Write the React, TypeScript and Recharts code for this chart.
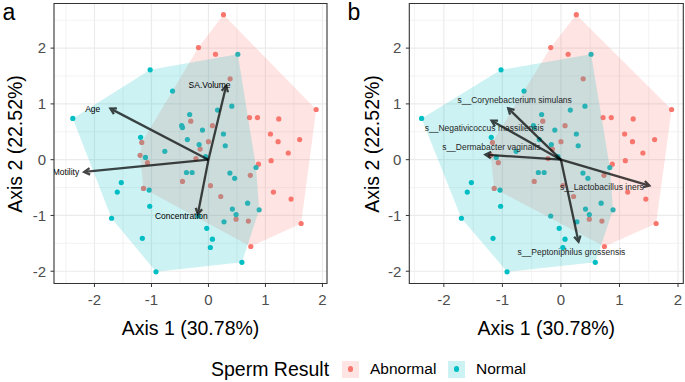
import React from 'react';
import { ScatterChart, Scatter, XAxis, YAxis, CartesianGrid, ReferenceArea } from 'recharts';

// PCoA scores (Axis 1, Axis 2) per sample
const abnormal: [number, number][] = [
  [0.263, 2.6], [-0.175, 2.01], [0.123, 1.89], [0.38, 1.45], [1.89, 0.9],
  [0.72, 0.755], [0.86, 0.755], [1.234, 0.73], [-0.31, 0.69], [0.07, 0.61],
  [1.088, 0.46], [1.222, 0.323], [1.6, 0.36], [0.0, 0.323], [-1.17, 0.31],
  [-0.146, 0.19], [-1.2, 0.078], [1.4, 0.12], [-1.07, -0.054], [1.1, -0.018],
  [0.877, -0.08], [0.735, -0.28], [-0.456, -0.39], [0.035, -0.467], [-1.14, -0.515],
  [1.14, -0.58], [0.216, -0.66], [1.45, -0.707], [0.485, -1.066], [0.7, -1.1],
  [1.626, -1.144], [0.743, -1.557], [-0.22, 0.02],
];

const normal: [number, number][] = [
  [0.515, 1.89], [-1.023, 1.61], [-0.63, 1.23], [-2.38, 0.74], [0.16, 0.89],
  [0.41, 0.96], [-0.33, 0.81], [-0.47, 0.61], [-0.456, 0.575], [-0.105, 0.53],
  [0.263, 0.46], [-0.37, 0.36], [-1.19, 0.4], [-0.164, 0.27], [0.295, 0.25],
  [-0.766, 0.15], [-1.105, 0.04], [-0.05, 0.054], [0.835, -0.14], [-0.386, -0.23],
  [-0.287, -0.23], [0.376, -0.24], [0.46, -0.335], [-1.53, -0.41], [-1.6, -0.58],
  [-1.04, -0.545], [-1.03, -0.835], [-1.7, -1.05], [0.687, -0.78], [0.89, -0.9],
  [0.42, -0.886], [0.485, -0.985], [0.273, -1.115], [-0.175, -1.01], [-0.03, -1.23],
  [0.07, -1.425], [0.033, -1.575], [-1.16, -1.41], [-0.92, -2.01], [0.587, -1.84],
];

// fitted vectors: tip (x, y) and text anchor (lx, ly)
const vectorsA = [
  { label: 'Age', x: -1.72, y: 0.915, lx: -2.03, ly: 0.91 },
  { label: 'SA.Volume', x: 0.31, y: 1.32, lx: 0.02, ly: 1.33 },
  { label: 'Motility', x: -2.18, y: -0.22, lx: -2.5, ly: -0.226 },
  { label: 'Concentration', x: -0.186, y: -0.975, lx: -0.475, ly: -1.01 },
];

const vectorsB = [
  { label: 's__Corynebacterium simulans', x: -0.9, y: 0.92, lx: -0.79, ly: 1.07 },
  { label: 's__Negativicoccus massiliensis', x: -1.185, y: 0.7, lx: -1.31, ly: 0.565 },
  { label: 's__Dermabacter vaginalis', x: -1.29, y: 0.09, lx: -1.19, ly: 0.22 },
  { label: 's__Lactobacillus iners', x: 1.51, y: -0.467, lx: 0.7, ly: -0.485 },
  { label: 's__Peptoniphilus grossensis', x: 0.3, y: -1.47, lx: 0.18, ly: -1.66 },
];

const ticks = [-2, -1, 0, 1, 2];
const minorX = [-2.5, -1.5, -0.5, 0.5, 1.5];
const minorY = [-1.5, -0.5, 0.5, 1.5, 2.5];
const yDomain: [number, number] = [-2.22, 2.8];

const RED = '#F8766D';
const TEAL = '#00BFC4';
const FONT = '"Liberation Sans", Arial, Helvetica, sans-serif';

const toXY = (pts: [number, number][]) => pts.map(([x, y]) => ({ x, y }));

// convex hull (monotone chain), same as chull() used for the group polygons
function hull(pts: [number, number][]) {
  const p = [...pts].sort((a, b) => a[0] - b[0] || a[1] - b[1]);
  const cross = (o: number[], a: number[], b: number[]) =>
    (a[0] - o[0]) * (b[1] - o[1]) - (a[1] - o[1]) * (b[0] - o[0]);
  const lower: [number, number][] = [];
  for (const q of p) {
    while (lower.length >= 2 && cross(lower[lower.length - 2], lower[lower.length - 1], q) <= 0) lower.pop();
    lower.push(q);
  }
  const upper: [number, number][] = [];
  for (let i = p.length - 1; i >= 0; i--) {
    const q = p[i];
    while (upper.length >= 2 && cross(upper[upper.length - 2], upper[upper.length - 1], q) <= 0) upper.pop();
    upper.push(q);
  }
  return lower.slice(0, -1).concat(upper.slice(0, -1));
}

const noShape = () => <g />;

const dot = (color: string) => (p: any) => <circle cx={p.cx} cy={p.cy} r={2.6} fill={color} />;

const polygon = (color: string) => (p: any) => {
  const pts = p.points || [];
  if (!pts.length) return <g />;
  const d = pts.map((q: any, i: number) => `${i ? 'L' : 'M'}${q.x},${q.y}`).join('') + 'Z';
  return <path d={d} fill={color} fillOpacity={0.2} stroke="none" />;
};

const arrow = (p: any) => {
  const pts = p.points || [];
  if (pts.length < 2) return <g />;
  const [a, b] = pts;
  const ang = Math.atan2(b.y - a.y, b.x - a.x);
  const len = 6.5;
  const s = Math.PI / 6;
  const h1 = [b.x - len * Math.cos(ang - s), b.y - len * Math.sin(ang - s)];
  const h2 = [b.x - len * Math.cos(ang + s), b.y - len * Math.sin(ang + s)];
  return (
    <g opacity={0.72} stroke="#000" strokeWidth={2.3} fill="none" strokeLinecap="butt" strokeLinejoin="miter">
      <line x1={a.x} y1={a.y} x2={b.x} y2={b.y} />
      <polyline points={`${h1[0]},${h1[1]} ${b.x},${b.y} ${h2[0]},${h2[1]}`} />
    </g>
  );
};

const labelText = (color: string) => (p: any) => (
  <text
    x={p.cx}
    y={p.cy}
    textAnchor="middle"
    dominantBaseline="central"
    fontSize={8.5}
    fill={color}
    fontFamily={FONT}
  >
    {p.payload.label}
  </text>
);

interface PanelProps {
  left: number;
  yAxisWidth: number;
  marginRight: number;
  xDomain: [number, number];
  vectors: { label: string; x: number; y: number; lx: number; ly: number }[];
  textColor: string;
}

function Panel({ left, yAxisWidth, marginRight, xDomain, vectors, textColor }: PanelProps) {
  const tickStyle = { fill: '#4D4D4D', fontSize: 15, fontFamily: FONT };
  return (
    <div style={{ position: 'absolute', left, top: 0 }}>
      <ScatterChart width={340} height={310} margin={{ top: 3.5, right: marginRight, bottom: 0, left: 0 }}>
        <CartesianGrid stroke="#EBEBEB" strokeWidth={0.6} verticalValues={minorX} horizontalValues={minorY} />
        <CartesianGrid stroke="#EBEBEB" strokeWidth={1.2} verticalValues={ticks} horizontalValues={ticks} />
        <XAxis
          type="number"
          dataKey="x"
          domain={xDomain}
          ticks={ticks}
          allowDataOverflow
          height={26.5}
          axisLine={false}
          tickLine={{ stroke: '#333333' }}
          tickSize={3.5}
          tickMargin={7}
          tick={tickStyle}
          interval={0}
        />
        <YAxis
          type="number"
          dataKey="y"
          domain={yDomain}
          ticks={ticks}
          allowDataOverflow
          width={yAxisWidth}
          axisLine={false}
          tickLine={{ stroke: '#333333' }}
          tickSize={3.5}
          tickMargin={4.5}
          tick={tickStyle}
          interval={0}
        />
        <Scatter data={toXY(abnormal)} shape={dot(RED)} isAnimationActive={false} />
        <Scatter data={toXY(normal)} shape={dot(TEAL)} isAnimationActive={false} />
        <Scatter data={toXY(hull(abnormal))} line={polygon(RED)} lineType="joint" shape={noShape} isAnimationActive={false} />
        <Scatter data={toXY(hull(normal))} line={polygon(TEAL)} lineType="joint" shape={noShape} isAnimationActive={false} />
        {vectors.map((v) => (
          <Scatter
            key={v.label}
            data={[{ x: 0, y: 0 }, { x: v.x, y: v.y }]}
            line={arrow}
            lineType="joint"
            shape={noShape}
            isAnimationActive={false}
          />
        ))}
        <Scatter
          data={vectors.map((v) => ({ x: v.lx, y: v.ly, label: v.label }))}
          shape={labelText(textColor)}
          isAnimationActive={false}
        />
        <ReferenceArea
          x1={xDomain[0]}
          x2={xDomain[1]}
          y1={yDomain[0]}
          y2={yDomain[1]}
          fill="none"
          fillOpacity={0}
          stroke="#333333"
          strokeWidth={1.1}
          ifOverflow="visible"
        />
      </ScatterChart>
    </div>
  );
}

const txt = (content: string, cx: number, cy: number, size: number, extra: React.CSSProperties = {}) => (
  <div
    style={{
      position: 'absolute',
      left: cx - 120,
      top: cy - 14,
      width: 240,
      height: 28,
      lineHeight: '28px',
      textAlign: 'center',
      fontSize: size,
      fontFamily: FONT,
      color: '#000',
      whiteSpace: 'nowrap',
      ...extra,
    }}
  >
    {content}
  </div>
);

const legendKey = (left: number, color: string) => (
  <div
    style={{
      position: 'absolute',
      left,
      top: 360.5,
      width: 17,
      height: 17,
      background: 'rgba(248,118,109,0)',
    }}
  >
    <div style={{ position: 'absolute', inset: 0, background: color, opacity: 0.2 }} />
    <div
      style={{
        position: 'absolute',
        left: 8.5 - 2.6,
        top: 8.5 - 2.6,
        width: 5.2,
        height: 5.2,
        borderRadius: '50%',
        background: color,
      }}
    />
  </div>
);

export default function App() {
  return (
    <div style={{ position: 'absolute', left: 0, top: 0, width: 685, height: 382, background: '#fff', overflow: 'hidden' }}>
      <Panel left={0} yAxisWidth={54} marginRight={13} xDomain={[-2.71, 2.08]} vectors={vectorsA} textColor="#000" />
      <Panel left={345} yAxisWidth={64.3} marginRight={1.7} xDomain={[-2.59, 2.09]} vectors={vectorsB} textColor="#262626" />

      {txt('a', 9, 12, 23)}
      {txt('b', 354, 12, 23)}

      {txt('Axis 2 (22.52%)', 15, 143.5, 19.5, { transform: 'rotate(-90deg)' })}
      {txt('Axis 2 (22.52%)', 372, 143.5, 19.5, { transform: 'rotate(-90deg)' })}
      {txt('Axis 1 (30.78%)', 190.5, 328, 19.5)}
      {txt('Axis 1 (30.78%)', 546.3, 328, 19.5)}

      <div
        style={{
          position: 'absolute',
          left: 211,
          top: 355,
          height: 28,
          lineHeight: '28px',
          fontSize: 19.5,
          fontFamily: FONT,
          whiteSpace: 'nowrap',
        }}
      >
        Sperm Result
      </div>
      {legendKey(342, RED)}
      <div style={{ position: 'absolute', left: 370, top: 355, height: 28, lineHeight: '28px', fontSize: 15.5, fontFamily: FONT }}>
        Abnormal
      </div>
      {legendKey(448, TEAL)}
      <div style={{ position: 'absolute', left: 476, top: 355, height: 28, lineHeight: '28px', fontSize: 15.5, fontFamily: FONT }}>
        Normal
      </div>
    </div>
  );
}
